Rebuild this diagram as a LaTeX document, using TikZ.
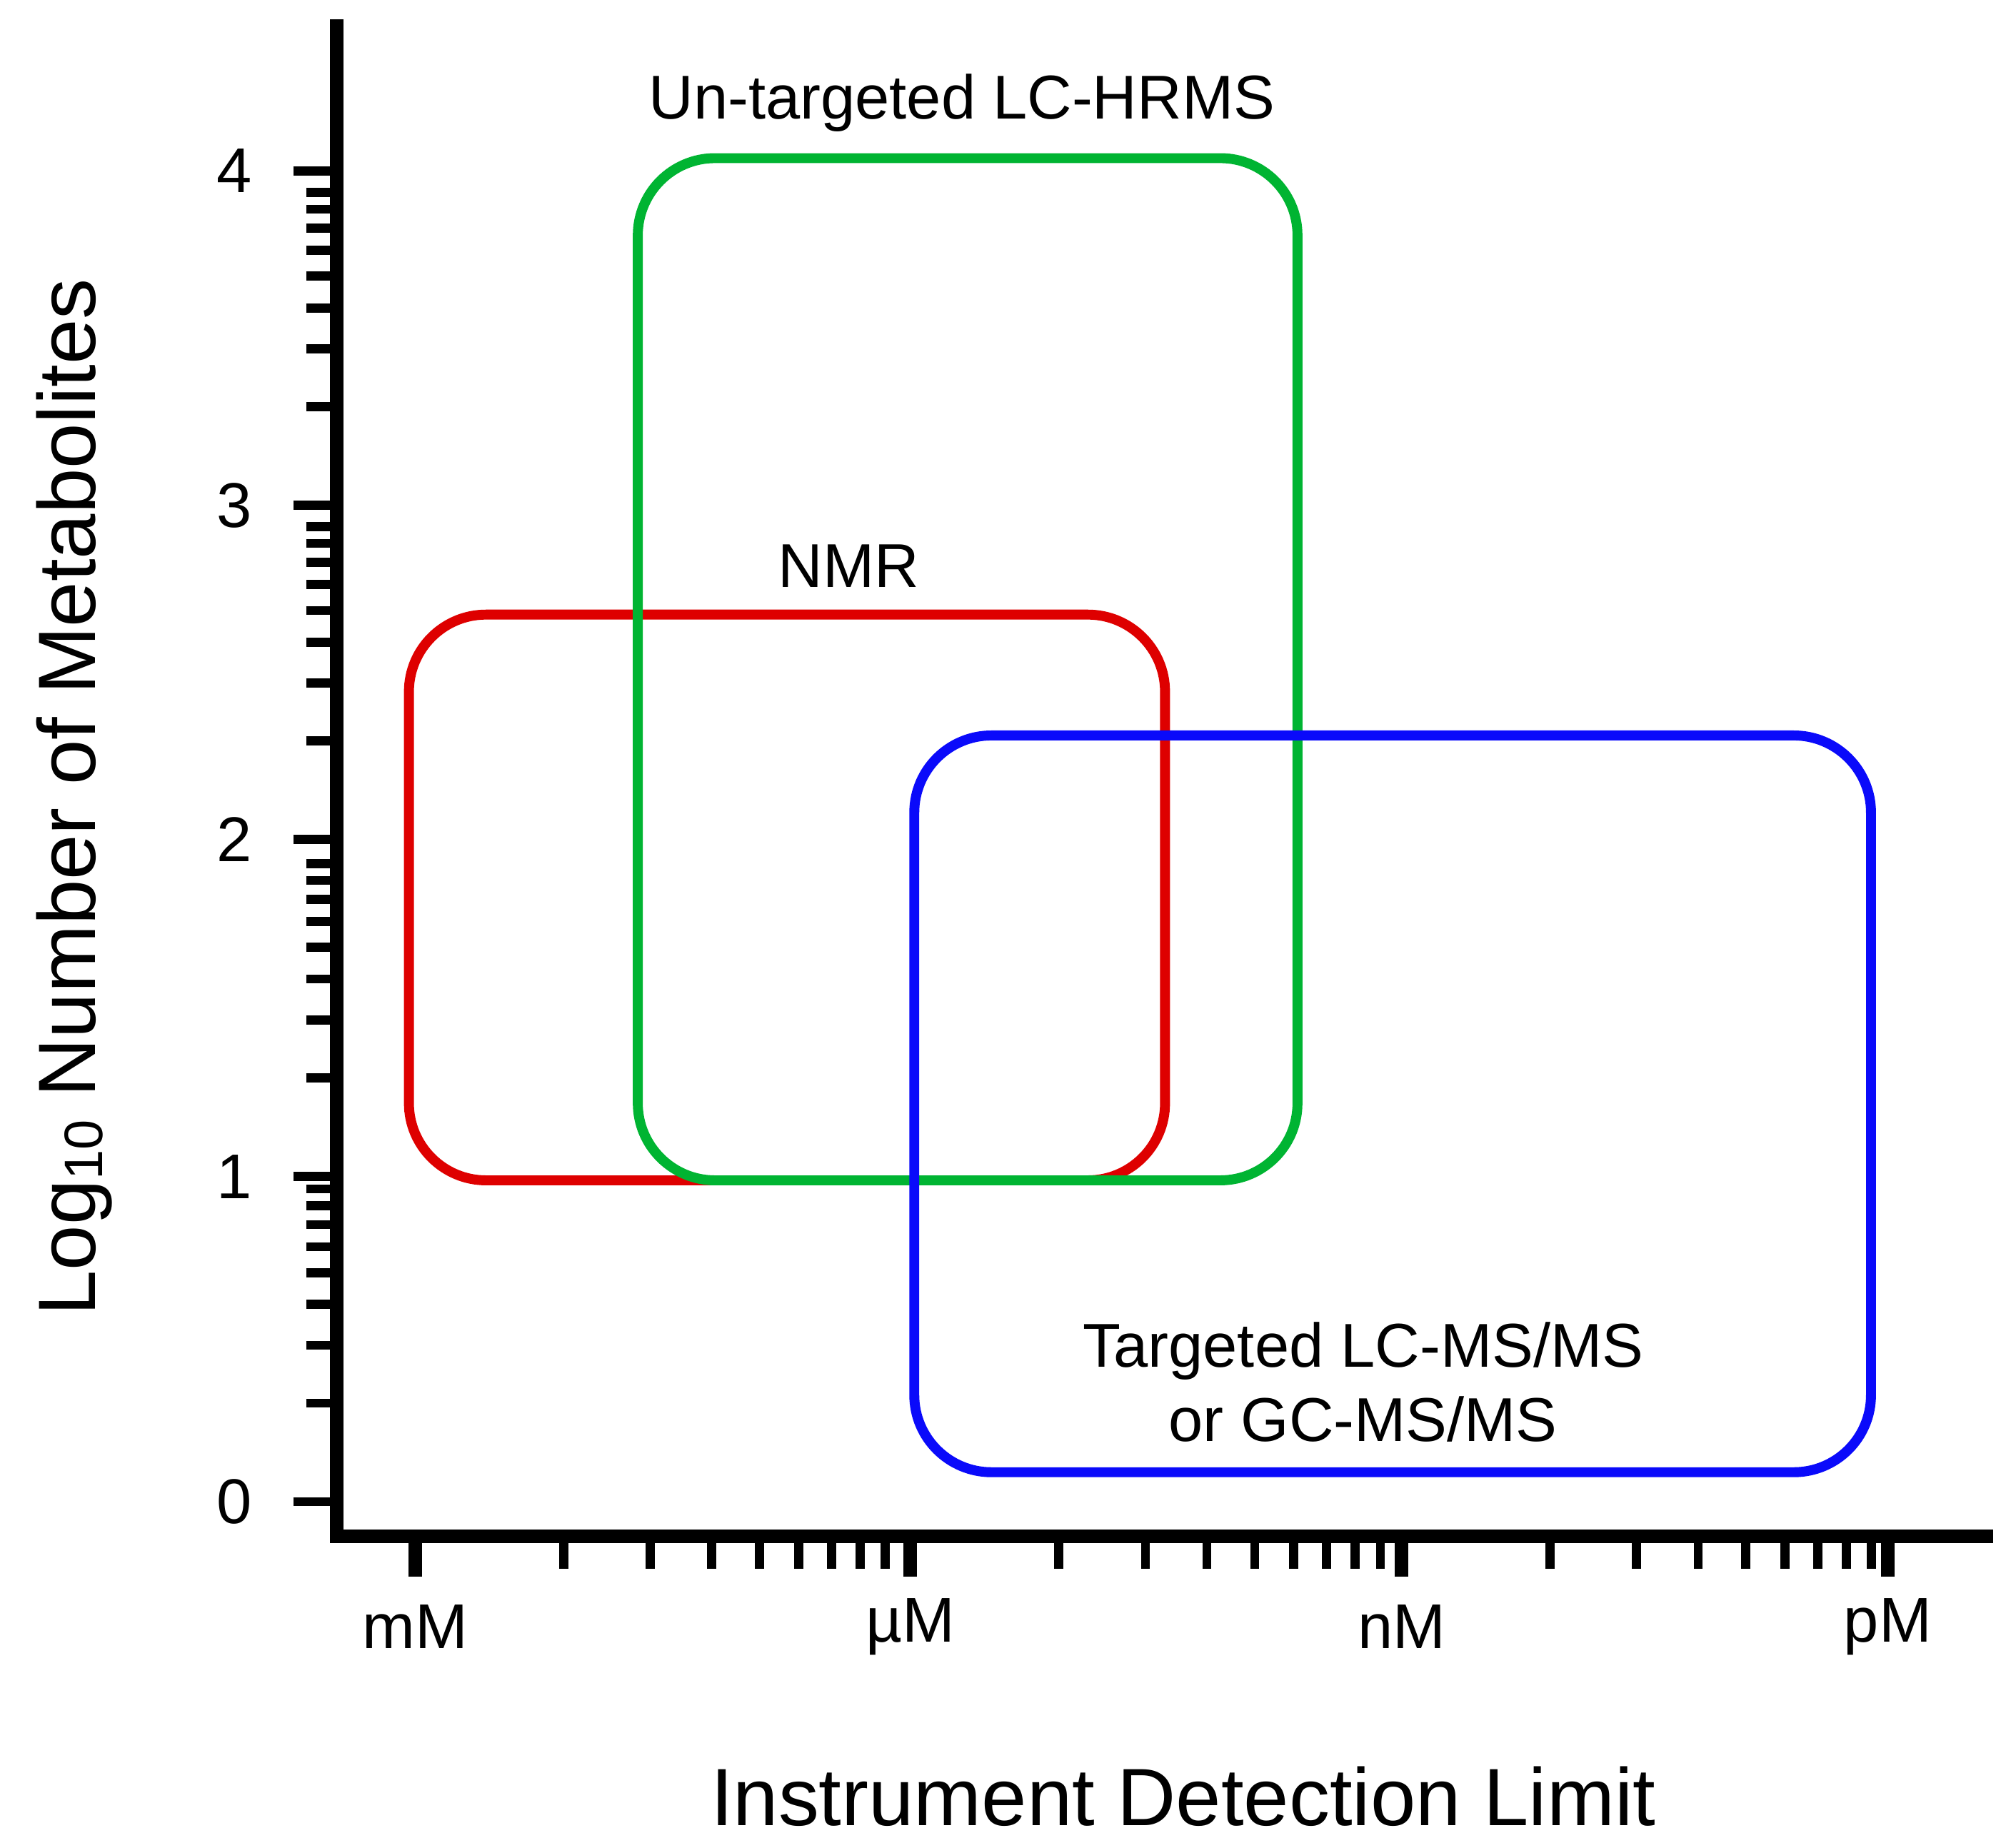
\documentclass[tikz,border=0pt]{standalone}
\usepackage{fontspec}
\setmainfont{Liberation Sans}
\usepackage{xcolor}
\definecolor{nmrred}{RGB}{222,0,0}
\definecolor{hrmsgreen}{RGB}{0,180,50}
\definecolor{msblue}{RGB}{10,10,250}
\tikzset{
  axisline/.style={line width=3pt},
  tickline/.style={line width=2pt},
  zone/.style={line width=2.2pt, rounded corners=0.6cm},
  ticklabel/.style={font=\fontsize{14}{17}\selectfont},
  zonelabel/.style={font=\fontsize{13.7}{16.5}\selectfont, align=center},
}
\begin{document}
\begin{tikzpicture}[x=0.1mm,y=-0.1mm]
    \useasboundingbox (0,0) rectangle (1560,1437);
    % Axes
    \draw[axisline] (262,15) -- (262,1195) -- (1550,1195);

    % Y ticks: decades with log minor ticks
    \foreach \d/\ya in {0/1168,1/915,2/653,3/393} {
        \draw[tickline] (228,\ya) -- (262,\ya);
        \foreach \k in {2,...,9}
            \draw[tickline] (238,{\ya-255*log10(\k)}) -- (262,{\ya-255*log10(\k)});
    }
    \draw[tickline] (228,133) -- (262,133);
    \foreach \d/\ya in {0/1168,1/915,2/653,3/393,4/133}
        \node[ticklabel] (y\d) at (182,\ya) {\d};

    % X ticks: three log steps between units
    \foreach \n/\xa in {mM/323,uM/708,nM/1090} {
        \draw[line width=3pt] (\xa,1195) -- (\xa,1226);
        \foreach \k in {2,...,9}
            \draw[tickline] ({\xa+383*log10(\k)},1195) -- ({\xa+383*log10(\k)},1220);
    }
    \draw[line width=3pt] (1468,1195) -- (1468,1226);
    \node[ticklabel] (mM) at (323,1265) {mM};
    \node[ticklabel] (uM) at (708,1265) {µM};
    \node[ticklabel] (nM) at (1090,1265) {nM};
    \node[ticklabel] (pM) at (1468,1265) {pM};

    % Axis titles
    \node[font=\fontsize{18}{22}\selectfont] (xtitle) at (920,1397) {Instrument Detection Limit};
    \node[font=\fontsize{18}{22}\selectfont, rotate=90] (ytitle) at (58,620)
        {Log{\fontsize{12}{14}\selectfont\raisebox{-0.25ex}{10}} Number of Metabolites};

    % Platforms
    \draw[zone, nmrred] (318,478) rectangle (906,918);
    \draw[zone, hrmsgreen] (496,123) rectangle (1009,918);
    \draw[zone, msblue] (711,572) rectangle (1455,1145);
    \node[zonelabel] (hrms) at (748,80) {Un-targeted LC-HRMS};
    \node[zonelabel] (nmr) at (660,440) {NMR};
    \node[zonelabel] (ms) at (1060,1075) {Targeted LC-MS/MS\\or GC-MS/MS};
\end{tikzpicture}
\end{document}
